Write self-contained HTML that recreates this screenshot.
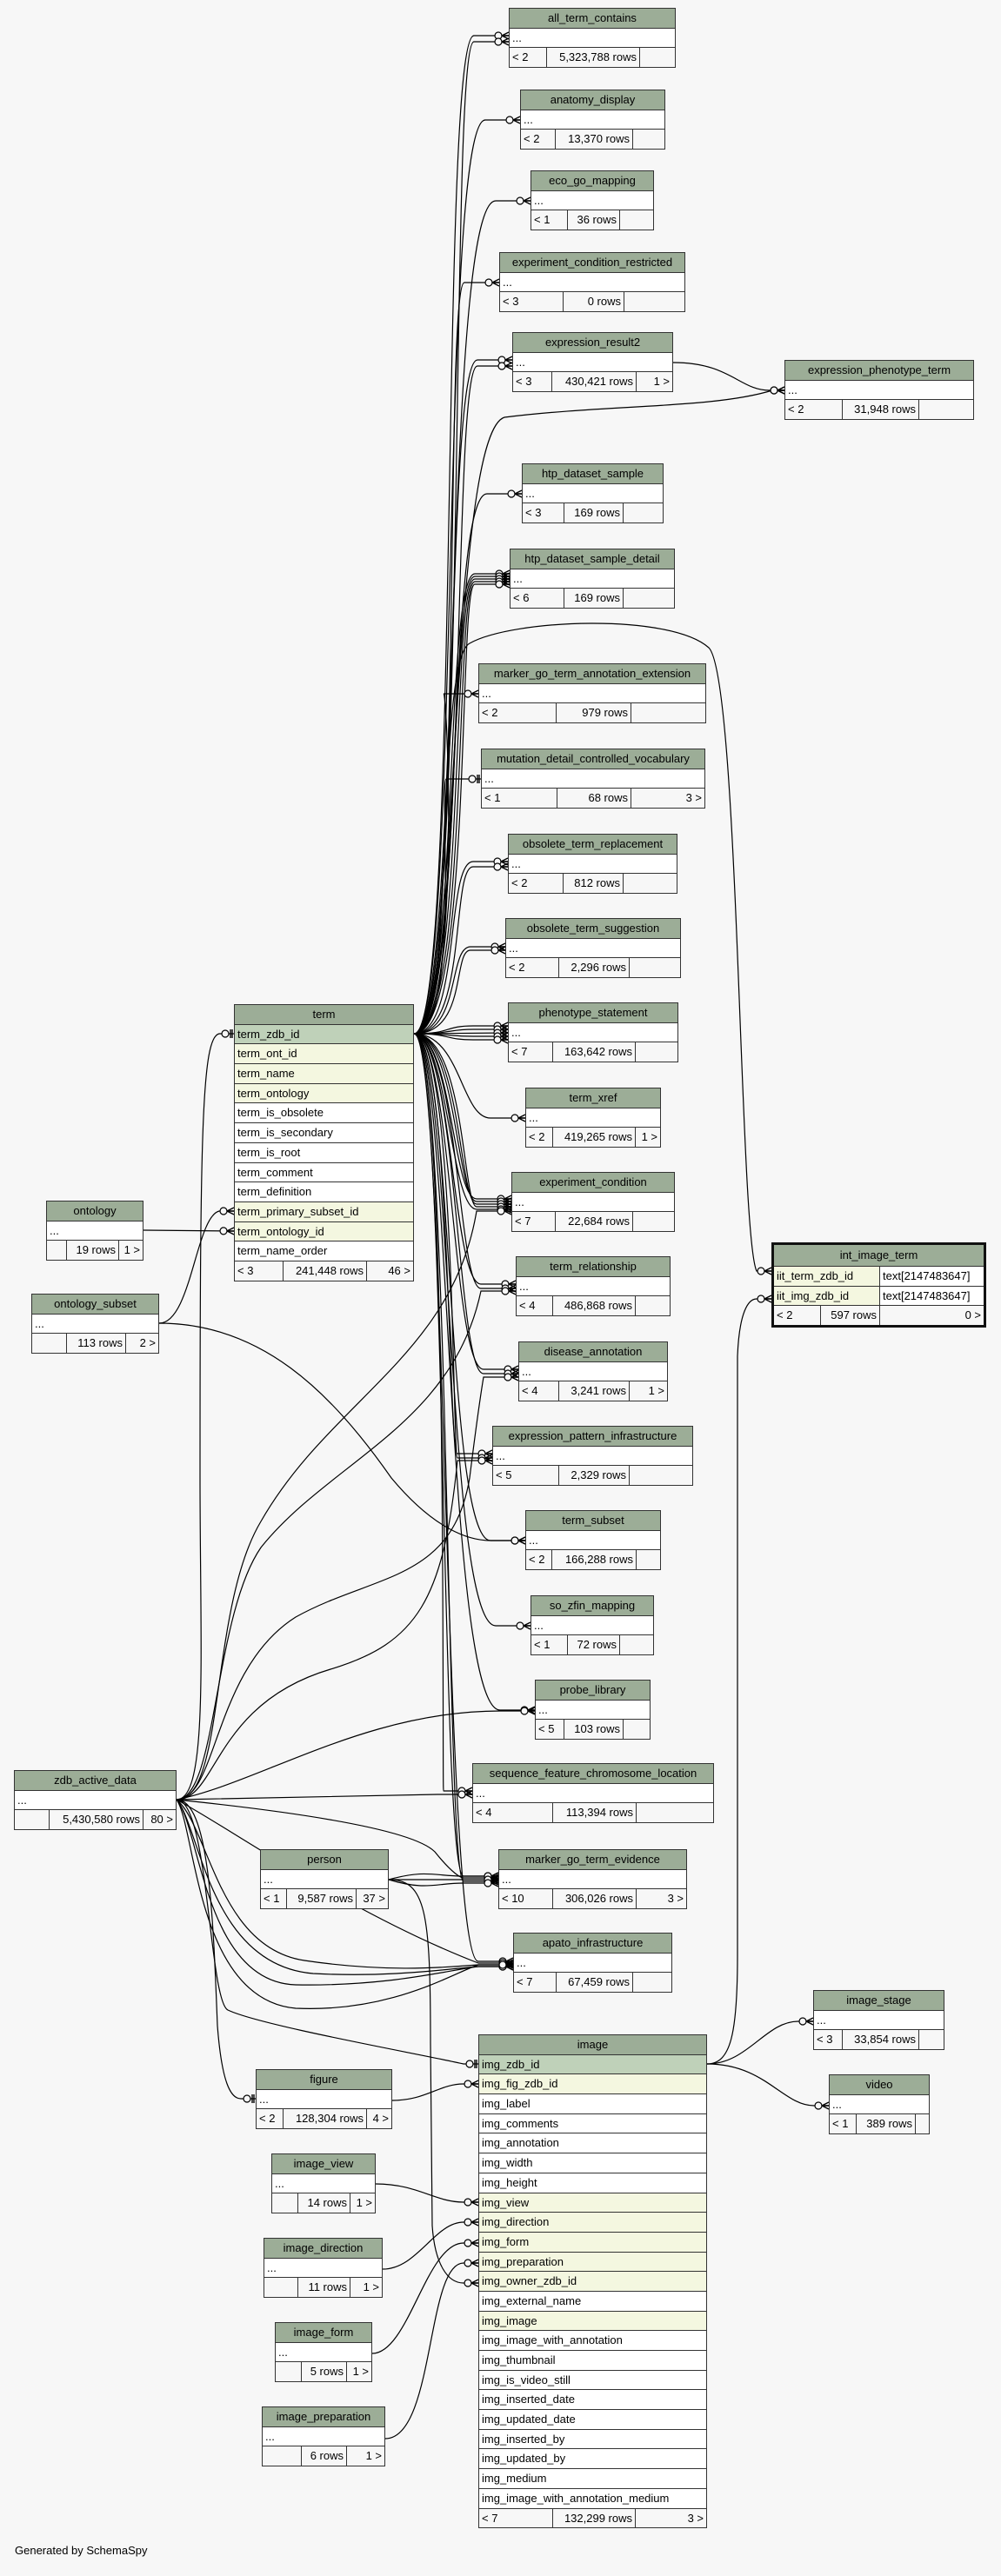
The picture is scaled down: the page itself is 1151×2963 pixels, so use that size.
<!DOCTYPE html>
<html><head><meta charset="utf-8">
<style>
body{margin:0;background:#f7f7f7;width:1151px;height:2963px;position:relative;overflow:hidden;font-family:"Liberation Sans",sans-serif;font-size:13px;color:#000}
svg{position:absolute;left:0;top:0}
.t{position:absolute;border:1.5px solid #333;background:#fff;box-sizing:border-box}
.t>div{height:21.7px;line-height:21.7px;border-top:1px solid #333;white-space:nowrap;overflow:hidden}
.t>div:first-child{border-top:none}
.h{background:#9cad97;text-align:center}
.r{padding-left:3px;background:#fff}
.k{background:#bfd1b9}
.y{background:#f4f7e0}
.f{display:flex;background:#f7f7f7}
.f span{border-right:1px solid #333;box-sizing:border-box;padding:0 3px;display:block;height:100%}
.f span:nth-child(2){text-align:right}
.f span:last-child{flex:1;border-right:none;text-align:right}
.ii{border:3px solid #111}
.ii .c{display:flex}
.ii .c span{display:block;box-sizing:border-box;padding-left:3px;height:100%}
.ii .c span:first-child{width:122px;background:#f4f7e0;border-right:1px solid #333}
.ii .c span:last-child{flex:1;background:#fff}
.gen{position:absolute;left:17px;top:2926px;font-size:13px}
</style></head><body>
<svg width="1151" height="2963" viewBox="0 0 1151 2963">
<defs>
<marker id="m" markerWidth="20" markerHeight="12" refX="17" refY="6" orient="auto" markerUnits="userSpaceOnUse" overflow="visible"><circle cx="5" cy="6" r="4" fill="#f7f7f7" stroke="#000" stroke-width="1.2"/><path d="M9 6L17 2M9 6L17 6M9 6L17 10" stroke="#000" stroke-width="1.4" fill="none"/></marker>
<marker id="o" markerWidth="20" markerHeight="12" refX="17" refY="6" orient="auto" markerUnits="userSpaceOnUse" overflow="visible"><circle cx="7" cy="6" r="4" fill="#f7f7f7" stroke="#000" stroke-width="1.2"/><path d="M13 1V11M15 1V11" stroke="#000" stroke-width="1.4" fill="none"/></marker>
</defs>
<g fill="none" stroke="#000" stroke-width="1.2">
<path marker-end="url(#m)" d="M476 1189C530 1189 505 41 545 41L585 41"/>
<path marker-end="url(#m)" d="M476 1189C540 1189 515 48 545 48L585 48"/>
<path marker-end="url(#m)" d="M476 1189C530 1189 505 138 558 138L598 138"/>
<path marker-end="url(#m)" d="M476 1189C532 1189 508 231 570 231L610 231"/>
<path marker-end="url(#m)" d="M476 1189C534 1189 510 325 534 325L574 325"/>
<path marker-end="url(#m)" d="M476 1189C530 1189 510 414 549 414L589 414"/>
<path marker-end="url(#m)" d="M476 1189C540 1189 518 421 549 421L589 421"/>
<path marker-end="url(#m)" d="M476 1189C530 1189 515 500 580 480C700 465 820 470 888 449L902 449"/>
<path marker-end="url(#m)" d="M476 1189C534 1189 512 568 560 568L600 568"/>
<path marker-end="url(#m)" d="M476 1189C528 1189 510 660 546 660L586 660"/>
<path marker-end="url(#m)" d="M476 1189C532 1189 514 663 546 663L586 663"/>
<path marker-end="url(#m)" d="M476 1189C536 1189 518 666 546 666L586 666"/>
<path marker-end="url(#m)" d="M476 1189C540 1189 522 669 546 669L586 669"/>
<path marker-end="url(#m)" d="M476 1189C544 1189 526 672 546 672L586 672"/>
<path marker-end="url(#m)" d="M476 1189C530 1189 515 800 510 798L550 798"/>
<path marker-end="url(#o)" d="M476 1189C530 1189 505 896 513 896L553 896"/>
<path marker-end="url(#m)" d="M476 1189C530 1189 512 991 544 991L584 991"/>
<path marker-end="url(#m)" d="M476 1189C538 1189 518 997 544 997L584 997"/>
<path marker-end="url(#m)" d="M476 1189C530 1189 515 1089 541 1089L581 1089"/>
<path marker-end="url(#m)" d="M476 1189C538 1189 520 1093 541 1093L581 1093"/>
<path marker-end="url(#m)" d="M476 1189C520 1189 510 1180 544 1180L584 1180"/>
<path marker-end="url(#m)" d="M476 1189C520 1189 515 1184 544 1184L584 1184"/>
<path marker-end="url(#m)" d="M476 1189L584 1188"/>
<path marker-end="url(#m)" d="M476 1189C520 1189 515 1192 544 1192L584 1192"/>
<path marker-end="url(#m)" d="M476 1189C520 1189 510 1196 544 1196L584 1196"/>
<path marker-end="url(#m)" d="M476 1189C530 1189 530 1286 564 1286L604 1286"/>
<path marker-end="url(#m)" d="M476 1189C520 1189 520 1379 548 1379L588 1379"/>
<path marker-end="url(#m)" d="M476 1189C525 1189 525 1382 548 1382L588 1382"/>
<path marker-end="url(#m)" d="M476 1189C530 1189 528 1385 548 1385L588 1385"/>
<path marker-end="url(#m)" d="M476 1189C535 1189 532 1388 548 1388L588 1388"/>
<path marker-end="url(#m)" d="M476 1189C515 1189 518 1391 548 1391L588 1391"/>
<path marker-end="url(#m)" d="M476 1189C520 1189 520 1477 553 1477L593 1477"/>
<path marker-end="url(#m)" d="M476 1189C528 1189 526 1482 553 1482L593 1482"/>
<path marker-end="url(#m)" d="M476 1189C520 1189 520 1575 556 1575L596 1575"/>
<path marker-end="url(#m)" d="M476 1189C526 1189 525 1580 556 1580L596 1580"/>
<path marker-end="url(#m)" d="M476 1189C518 1189 515 1672 526 1672L566 1672"/>
<path marker-end="url(#m)" d="M476 1189C524 1189 520 1677 526 1677L566 1677"/>
<path marker-end="url(#m)" d="M476 1189C522 1189 512 1772 564 1772L604 1772"/>
<path marker-end="url(#m)" d="M476 1189C520 1189 512 1870 570 1870L610 1870"/>
<path marker-end="url(#m)" d="M476 1189C518 1189 512 1967 575 1967L615 1967"/>
<path marker-end="url(#m)" d="M476 1189C516 1189 508 2060 510 2060L543 2060"/>
<path marker-end="url(#m)" d="M476 1189C514 1189 506 2158 533 2158L573 2158"/>
<path marker-end="url(#m)" d="M476 1189C518 1189 512 2164 533 2164L573 2164"/>
<path marker-end="url(#m)" d="M476 1189C514 1189 510 2256 550 2256L590 2256"/>
<path marker-end="url(#m)" d="M476 1189C525 1189 500 760 540 740C590 712 770 705 815 745C850 780 850 1420 870 1462L887 1462"/>
<path marker-end="url(#o)" d="M203 2070C240 2070 230 1900 230 1700C230 1300 232 1193 252 1189L269 1189"/>
<path marker-end="url(#m)" d="M203 2070C260 2070 240 1850 300 1750C380 1610 520 1560 548 1393L588 1393"/>
<path marker-end="url(#m)" d="M203 2070C250 2070 245 1860 300 1780C380 1680 520 1640 553 1485L593 1485"/>
<path marker-end="url(#m)" d="M203 2070C250 2070 245 1920 340 1860C430 1810 520 1820 540 1700C550 1620 556 1584 556 1584L596 1584"/>
<path marker-end="url(#m)" d="M203 2070C250 2070 245 1960 380 1920C480 1890 510 1840 526 1680L566 1680"/>
<path marker-end="url(#m)" d="M203 2070C300 2050 420 1968 575 1968L615 1968"/>
<path marker-end="url(#m)" d="M203 2070L503 2064L543 2064"/>
<path marker-end="url(#m)" d="M203 2070C300 2080 470 2100 500 2130C520 2155 530 2160 533 2160L573 2160"/>
<path marker-end="url(#m)" d="M203 2070C260 2100 400 2200 550 2258L590 2258"/>
<path marker-end="url(#m)" d="M203 2070C240 2100 250 2240 350 2255C450 2270 520 2262 550 2260L590 2260"/>
<path marker-end="url(#m)" d="M203 2070C230 2100 240 2260 360 2270C450 2275 520 2264 550 2262L590 2262"/>
<path marker-end="url(#m)" d="M203 2070C230 2100 235 2280 340 2283C450 2285 520 2265 550 2262L590 2262"/>
<path marker-end="url(#m)" d="M203 2070C225 2100 225 2300 340 2310C450 2315 520 2270 550 2260L590 2260"/>
<path marker-end="url(#o)" d="M203 2070C240 2070 245 2200 250 2330C255 2395 265 2414 277 2414L294 2414"/>
<path marker-end="url(#o)" d="M203 2070C240 2070 240 2300 262 2312C300 2330 480 2362 533 2374L550 2374"/>
<path marker-end="url(#m)" d="M447 2162C490 2150 500 2158 533 2158L573 2158"/>
<path marker-end="url(#m)" d="M447 2162C490 2162 500 2162 533 2162L573 2162"/>
<path marker-end="url(#m)" d="M447 2162C490 2175 500 2166 533 2166L573 2166"/>
<path marker-end="url(#m)" d="M447 2162C490 2162 495 2200 495 2350L497 2560C500 2605 515 2626 533 2626L550 2626"/>
<path marker-end="url(#m)" d="M165 1415L269 1416"/>
<path marker-end="url(#m)" d="M183 1522C220 1522 225 1400 252 1393L269 1393"/>
<path marker-end="url(#m)" d="M183 1522C300 1522 380 1600 450 1700C500 1760 540 1772 564 1772L604 1772"/>
<path marker-end="url(#m)" d="M813 2374C860 2374 880 2325 918 2325L935 2325"/>
<path marker-end="url(#m)" d="M813 2374C880 2374 900 2422 936 2422L953 2422"/>
<path marker-end="url(#m)" d="M813 2374C840 2374 848 2340 848 2250L848 1560C850 1510 860 1494 870 1494L887 1494"/>
<path marker-end="url(#m)" d="M774 417C840 417 850 449 885 449L902 449"/>
<path marker-end="url(#m)" d="M451 2416C490 2416 505 2397 533 2397L550 2397"/>
<path marker-end="url(#m)" d="M432 2512C480 2512 500 2533 533 2533L550 2533"/>
<path marker-end="url(#m)" d="M440 2610C480 2610 500 2556 533 2556L550 2556"/>
<path marker-end="url(#m)" d="M428 2707C470 2707 490 2580 533 2580L550 2580"/>
<path marker-end="url(#m)" d="M443 2805C500 2805 490 2603 533 2603L550 2603"/>
</g>
</svg>

<div class="t" style="left:585px;top:9px;width:192px"><div class="h">all_term_contains</div><div class="r">...</div><div class="f"><span style="width:43px">&lt; 2</span><span style="width:107px">5,323,788 rows</span><span></span></div></div>
<div class="t" style="left:598px;top:103px;width:167px"><div class="h">anatomy_display</div><div class="r">...</div><div class="f"><span style="width:40px">&lt; 2</span><span style="width:89px">13,370 rows</span><span></span></div></div>
<div class="t" style="left:610px;top:196px;width:142px"><div class="h">eco_go_mapping</div><div class="r">...</div><div class="f"><span style="width:42px">&lt; 1</span><span style="width:60px">36 rows</span><span></span></div></div>
<div class="t" style="left:574px;top:290px;width:214px"><div class="h">experiment_condition_restricted</div><div class="r">...</div><div class="f"><span style="width:73px">&lt; 3</span><span style="width:70px">0 rows</span><span></span></div></div>
<div class="t" style="left:589px;top:382px;width:185px"><div class="h">expression_result2</div><div class="r">...</div><div class="f"><span style="width:45px">&lt; 3</span><span style="width:97px">430,421 rows</span><span>1 &gt;</span></div></div>
<div class="t" style="left:902px;top:414px;width:218px"><div class="h">expression_phenotype_term</div><div class="r">...</div><div class="f"><span style="width:66px">&lt; 2</span><span style="width:88px">31,948 rows</span><span></span></div></div>
<div class="t" style="left:600px;top:533px;width:163px"><div class="h">htp_dataset_sample</div><div class="r">...</div><div class="f"><span style="width:48px">&lt; 3</span><span style="width:68px">169 rows</span><span></span></div></div>
<div class="t" style="left:586px;top:631px;width:190px"><div class="h">htp_dataset_sample_detail</div><div class="r">...</div><div class="f"><span style="width:62px">&lt; 6</span><span style="width:68px">169 rows</span><span></span></div></div>
<div class="t" style="left:550px;top:763px;width:262px"><div class="h">marker_go_term_annotation_extension</div><div class="r">...</div><div class="f"><span style="width:89px">&lt; 2</span><span style="width:86px">979 rows</span><span></span></div></div>
<div class="t" style="left:553px;top:861px;width:258px"><div class="h">mutation_detail_controlled_vocabulary</div><div class="r">...</div><div class="f"><span style="width:87px">&lt; 1</span><span style="width:85px">68 rows</span><span>3 &gt;</span></div></div>
<div class="t" style="left:584px;top:959px;width:195px"><div class="h">obsolete_term_replacement</div><div class="r">...</div><div class="f"><span style="width:63px">&lt; 2</span><span style="width:69px">812 rows</span><span></span></div></div>
<div class="t" style="left:581px;top:1056px;width:202px"><div class="h">obsolete_term_suggestion</div><div class="r">...</div><div class="f"><span style="width:61px">&lt; 2</span><span style="width:81px">2,296 rows</span><span></span></div></div>
<div class="t" style="left:584px;top:1153px;width:196px"><div class="h">phenotype_statement</div><div class="r">...</div><div class="f"><span style="width:51px">&lt; 7</span><span style="width:95px">163,642 rows</span><span></span></div></div>
<div class="t" style="left:604px;top:1251px;width:156px"><div class="h">term_xref</div><div class="r">...</div><div class="f"><span style="width:31px">&lt; 2</span><span style="width:95px">419,265 rows</span><span>1 &gt;</span></div></div>
<div class="t" style="left:588px;top:1348px;width:188px"><div class="h">experiment_condition</div><div class="r">...</div><div class="f"><span style="width:50px">&lt; 7</span><span style="width:89px">22,684 rows</span><span></span></div></div>
<div class="t" style="left:593px;top:1445px;width:178px"><div class="h">term_relationship</div><div class="r">...</div><div class="f"><span style="width:42px">&lt; 4</span><span style="width:95px">486,868 rows</span><span></span></div></div>
<div class="t" style="left:596px;top:1543px;width:172px"><div class="h">disease_annotation</div><div class="r">...</div><div class="f"><span style="width:46px">&lt; 4</span><span style="width:81px">3,241 rows</span><span>1 &gt;</span></div></div>
<div class="t" style="left:566px;top:1640px;width:231px"><div class="h">expression_pattern_infrastructure</div><div class="r">...</div><div class="f"><span style="width:76px">&lt; 5</span><span style="width:81px">2,329 rows</span><span></span></div></div>
<div class="t" style="left:604px;top:1737px;width:156px"><div class="h">term_subset</div><div class="r">...</div><div class="f"><span style="width:30px">&lt; 2</span><span style="width:97px">166,288 rows</span><span></span></div></div>
<div class="t" style="left:610px;top:1835px;width:142px"><div class="h">so_zfin_mapping</div><div class="r">...</div><div class="f"><span style="width:42px">&lt; 1</span><span style="width:60px">72 rows</span><span></span></div></div>
<div class="t" style="left:615px;top:1932px;width:133px"><div class="h">probe_library</div><div class="r">...</div><div class="f"><span style="width:33px">&lt; 5</span><span style="width:68px">103 rows</span><span></span></div></div>
<div class="t" style="left:543px;top:2028px;width:278px"><div class="h">sequence_feature_chromosome_location</div><div class="r">...</div><div class="f"><span style="width:92px">&lt; 4</span><span style="width:96px">113,394 rows</span><span></span></div></div>
<div class="t" style="left:573px;top:2127px;width:217px"><div class="h">marker_go_term_evidence</div><div class="r">...</div><div class="f"><span style="width:62px">&lt; 10</span><span style="width:96px">306,026 rows</span><span>3 &gt;</span></div></div>
<div class="t" style="left:590px;top:2223px;width:183px"><div class="h">apato_infrastructure</div><div class="r">...</div><div class="f"><span style="width:49px">&lt; 7</span><span style="width:88px">67,459 rows</span><span></span></div></div>

<div class="t ii" style="left:887px;top:1429px;width:247px"><div class="h" style="height:24px;line-height:24px">int_image_term</div><div class="c"><span>iit_term_zdb_id</span><span>text[2147483647]</span></div><div class="c"><span>iit_img_zdb_id</span><span>text[2147483647]</span></div><div class="f"><span style="width:54px">&lt; 2</span><span style="width:68px">597 rows</span><span>0 &gt;</span></div></div>

<div class="t" style="left:935px;top:2289px;width:151px"><div class="h">image_stage</div><div class="r">...</div><div class="f"><span style="width:33px">&lt; 3</span><span style="width:88px">33,854 rows</span><span></span></div></div>
<div class="t" style="left:953px;top:2386px;width:116px"><div class="h">video</div><div class="r">...</div><div class="f"><span style="width:31px">&lt; 1</span><span style="width:68px">389 rows</span><span></span></div></div>

<div class="t" style="left:550px;top:2340px;width:263px"><div class="h">image</div><div class="r k">img_zdb_id</div><div class="r y">img_fig_zdb_id</div><div class="r">img_label</div><div class="r">img_comments</div><div class="r">img_annotation</div><div class="r">img_width</div><div class="r">img_height</div><div class="r y">img_view</div><div class="r y">img_direction</div><div class="r y">img_form</div><div class="r y">img_preparation</div><div class="r y">img_owner_zdb_id</div><div class="r">img_external_name</div><div class="r y">img_image</div><div class="r">img_image_with_annotation</div><div class="r">img_thumbnail</div><div class="r">img_is_video_still</div><div class="r">img_inserted_date</div><div class="r">img_updated_date</div><div class="r">img_inserted_by</div><div class="r">img_updated_by</div><div class="r">img_medium</div><div class="r">img_image_with_annotation_medium</div><div class="f"><span style="width:85px">&lt; 7</span><span style="width:95px">132,299 rows</span><span>3 &gt;</span></div></div>

<div class="t" style="left:269px;top:1155px;width:207px"><div class="h">term</div><div class="r k">term_zdb_id</div><div class="r y">term_ont_id</div><div class="r y">term_name</div><div class="r y">term_ontology</div><div class="r">term_is_obsolete</div><div class="r">term_is_secondary</div><div class="r">term_is_root</div><div class="r">term_comment</div><div class="r">term_definition</div><div class="r y">term_primary_subset_id</div><div class="r y">term_ontology_id</div><div class="r">term_name_order</div><div class="f"><span style="width:56px">&lt; 3</span><span style="width:96px">241,448 rows</span><span>46 &gt;</span></div></div>

<div class="t" style="left:53px;top:1381px;width:112px"><div class="h">ontology</div><div class="r">...</div><div class="f"><span style="width:23px"></span><span style="width:60px">19 rows</span><span>1 &gt;</span></div></div>
<div class="t" style="left:36px;top:1488px;width:147px"><div class="h">ontology_subset</div><div class="r">...</div><div class="f"><span style="width:40px"></span><span style="width:68px">113 rows</span><span>2 &gt;</span></div></div>
<div class="t" style="left:16px;top:2036px;width:187px"><div class="h">zdb_active_data</div><div class="r">...</div><div class="f"><span style="width:40px"></span><span style="width:108px">5,430,580 rows</span><span>80 &gt;</span></div></div>
<div class="t" style="left:299px;top:2127px;width:148px"><div class="h">person</div><div class="r">...</div><div class="f"><span style="width:30px">&lt; 1</span><span style="width:80px">9,587 rows</span><span>37 &gt;</span></div></div>
<div class="t" style="left:294px;top:2380px;width:157px"><div class="h">figure</div><div class="r">...</div><div class="f"><span style="width:31px">&lt; 2</span><span style="width:96px">128,304 rows</span><span>4 &gt;</span></div></div>
<div class="t" style="left:312px;top:2477px;width:120px"><div class="h">image_view</div><div class="r">...</div><div class="f"><span style="width:30px"></span><span style="width:60px">14 rows</span><span>1 &gt;</span></div></div>
<div class="t" style="left:303px;top:2574px;width:137px"><div class="h">image_direction</div><div class="r">...</div><div class="f"><span style="width:39px"></span><span style="width:60px">11 rows</span><span>1 &gt;</span></div></div>
<div class="t" style="left:316px;top:2671px;width:112px"><div class="h">image_form</div><div class="r">...</div><div class="f"><span style="width:30px"></span><span style="width:52px">5 rows</span><span>1 &gt;</span></div></div>
<div class="t" style="left:301px;top:2768px;width:142px"><div class="h">image_preparation</div><div class="r">...</div><div class="f"><span style="width:45px"></span><span style="width:52px">6 rows</span><span>1 &gt;</span></div></div>

<div class="gen">Generated by SchemaSpy</div>
</body></html>
